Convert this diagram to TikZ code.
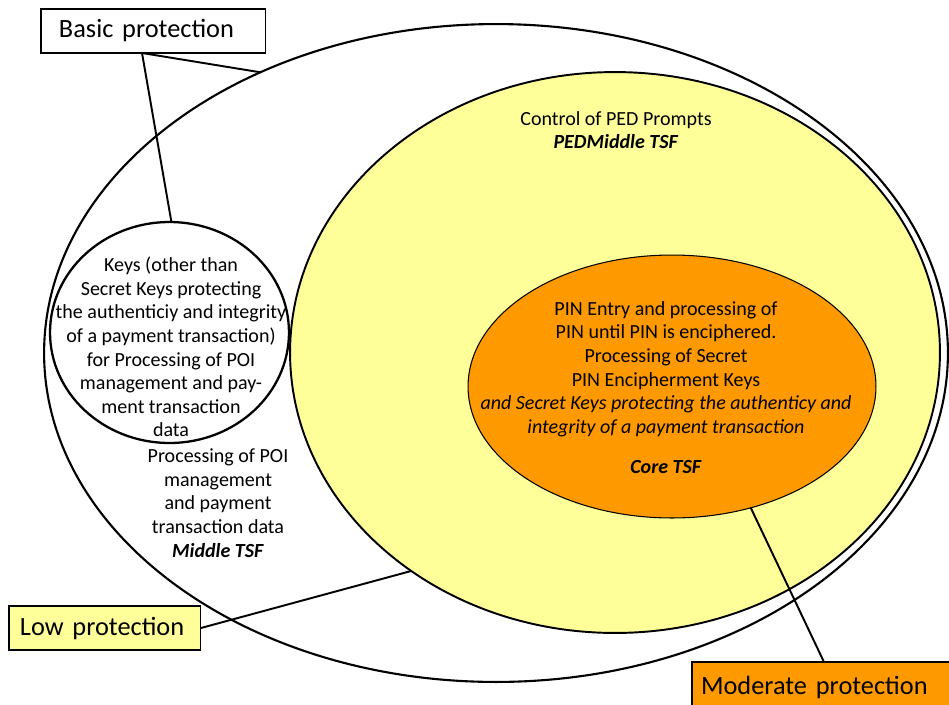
\documentclass[tikz,border=0pt]{standalone}
\usepackage{fontspec}
\setmainfont{Carlito}
\usetikzlibrary{shapes.geometric,calc}
\definecolor{paleyellow}{HTML}{FFFF99}
\definecolor{amber}{HTML}{FF9900}

\begin{document}
\begin{tikzpicture}[x=0.02cm,y=-0.02cm,
  zone/.style={ellipse,inner sep=0pt,outer sep=0pt,draw=black},
  body/.style={align=center,inner sep=0pt,font=\fontsize{11.4}{13.45}\selectfont},
  tag/.style={draw=black,line width=0.6pt,anchor=north west,outer sep=0pt,
    align=left,minimum height=0.88cm,inner ysep=0pt,
    font=\fontsize{15}{18}\selectfont},
  link/.style={line width=1.1pt}]
\path[use as bounding box,clip] (0,0) rectangle (949,704);

% protection zones
\node[zone,line width=1.2pt,minimum width=18.08cm,minimum height=13.16cm] (outer) at (496,353) {};
\node[zone,fill=paleyellow,line width=1.1pt,minimum width=13cm,minimum height=11.22cm] (pedmid) at (615,352.5) {};
\node[zone,fill=amber,line width=0.6pt,minimum width=8.16cm,minimum height=5.26cm] (core) at (672,386.5) {};
\node[zone,line width=1.3pt,minimum width=4.78cm,minimum height=4.42cm] (keys) at (169.5,332.5) {};

% zone descriptions
\node[body] (pedtxt) at (616,130) {Control of PED Prompts\\\textbf{\textit{PEDMiddle TSF}}};
\node[body] (coretxt) at (666,387.5) {PIN Entry and processing of\\PIN until PIN is enciphered.\\Processing of Secret\\PIN Encipherment Keys\\\textit{and Secret Keys protecting the authenticy and}\\\textit{integrity of a payment transaction}\\[9.3pt]\textbf{\textit{Core TSF}}};
\node[body] (keystxt) at (171,347) {Keys (other than\\Secret Keys protecting\\the authenticiy and integrity\\of a payment transaction)\\for Processing of POI\\management and pay-\\ment transaction\\data};
\node[body] (midtxt) at (218,503) {Processing of POI\\management\\and payment\\transaction data\\\textbf{\textit{Middle TSF}}};

% protection level labels
\node[tag,fill=white,inner xsep=0.36cm,text width=3.78cm] (basic) at (41,9) {Basic protection};
\node[tag,fill=paleyellow,inner xsep=0.22cm,text width=3.40cm] (low) at (9,606) {Low protection};
\node[tag,fill=amber,inner xsep=0.18cm,text width=6.5cm,minimum height=1cm] (moderate) at (692,662) {Moderate protection};

% callout lines
\coordinate (bfoot) at ($(basic.south west)!0.449!(basic.south east)$);
\draw[link] (bfoot) -- (outer.130);
\draw[link] (bfoot) -- (keys.89.2);
\draw[link] (low.east) -- (pedmid.227.1);
\draw[link] ([xshift=2.64cm]moderate.north west) -- (core.303.4);
\end{tikzpicture}
\end{document}
